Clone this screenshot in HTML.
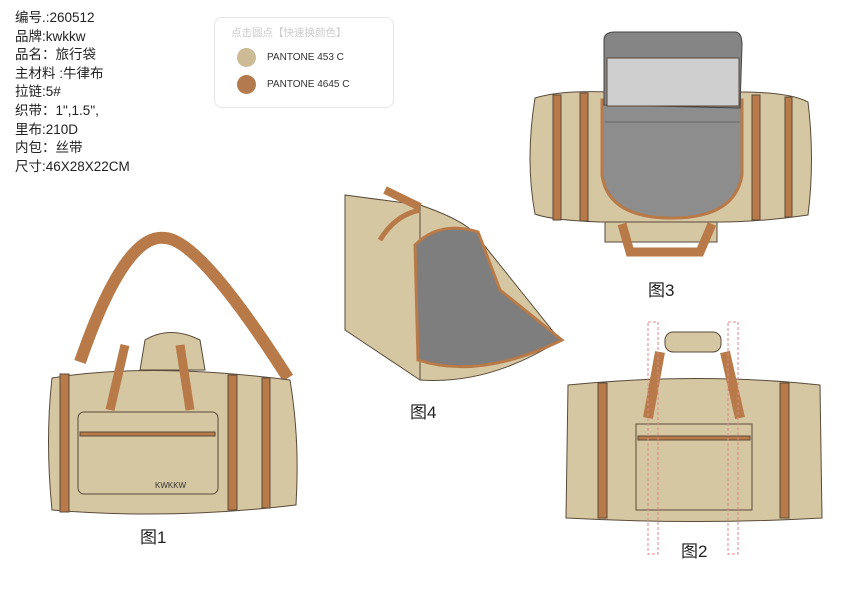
<!DOCTYPE html>
<html><head><meta charset="utf-8"><style>
body{margin:0;width:841px;height:595px;background:#fff;overflow:hidden;position:relative;font-family:"Liberation Sans","Noto Sans CJK SC",sans-serif}
.info{position:absolute;left:15px;top:9px;font-size:13.5px;line-height:18.6px;color:#222}
.box{position:absolute;left:214px;top:17px;width:178px;height:89px;border:1px solid #e6e6e6;border-radius:8px}
.box .t{position:absolute;left:16px;top:7px;font-size:10.5px;color:#ccc}
.sw{position:absolute;left:22px;width:19px;height:19px;border-radius:50%}
.lb{position:absolute;left:52px;font-size:10px;color:#333}
.cap{position:absolute;font-size:17px;color:#222}
svg{position:absolute;left:0;top:0}
</style></head><body>
<div class="info">编号.:260512<br>品牌:kwkkw<br>品名：旅行袋<br>主材料 :牛律布<br>拉链:5#<br>织带：1",1.5",<br>里布:210D<br>内包：丝带<br>尺寸:46X28X22CM</div>
<div class="box"><div class="t">点击圆点【快速换颜色】</div>
<div class="sw" style="top:30px;background:#cdbb95"></div><div class="lb" style="top:34px">PANTONE 453 C</div>
<div class="sw" style="top:57px;background:#b47a4f"></div><div class="lb" style="top:61px">PANTONE 4645 C</div></div>
<svg width="841" height="595" viewBox="0 0 841 595" stroke="#5a4a3a" stroke-width="1">
<!-- Fig1 -->
<path d="M80,362 Q125,232 165,238 Q200,240 288,378" fill="none" stroke="#b87a48" stroke-width="12"/>
<path d="M52,378 Q150,362 290,380 Q300,440 296,505 Q170,520 52,510 Q45,440 52,378 Z" fill="#d6c7a3"/>
<path d="M145,340 Q170,325 200,340 L205,370 L140,370 Z" fill="#d6c7a3"/>
<rect x="60" y="374" width="9" height="138" fill="#b87a48"/><rect x="228" y="375" width="9" height="135" fill="#b87a48"/><rect x="262" y="378" width="8" height="130" fill="#b87a48"/>
<rect x="78" y="412" width="140" height="82" rx="6" fill="#d6c7a3"/><rect x="80" y="432" width="135" height="4" fill="#b87a48"/>
<path d="M110,410 L125,345 M190,410 L180,345" stroke="#b87a48" stroke-width="9"/>
<text x="155" y="488" font-size="8" fill="#333" stroke="none" font-family="Liberation Sans">KWKKW</text>
<!-- Fig2 -->
<path d="M568,385 Q700,372 820,385 L822,518 Q700,525 566,518 Z" fill="#d6c7a3"/>
<rect x="665" y="332" width="56" height="20" rx="8" fill="#d6c7a3"/>
<path d="M648,418 L660,352 M740,418 L725,352" stroke="#b87a48" stroke-width="10"/>
<rect x="598" y="383" width="9" height="135" fill="#b87a48"/><rect x="780" y="383" width="9" height="135" fill="#b87a48"/>
<rect x="636" y="424" width="116" height="86" fill="#d6c7a3"/><rect x="638" y="436" width="112" height="4" fill="#b87a48"/>
<rect x="648" y="322" width="10" height="232" fill="none" stroke="#e08a8a" stroke-dasharray="3,2"/><rect x="728" y="322" width="10" height="232" fill="none" stroke="#e08a8a" stroke-dasharray="3,2"/>
<!-- Fig3 -->
<path d="M535,98 Q560,90 610,92 L740,92 Q790,92 808,102 Q815,160 808,215 Q760,222 720,222 L600,222 Q550,220 535,214 Q525,160 535,98 Z" fill="#d6c7a3"/>
<rect x="553" y="95" width="8" height="125" fill="#b87a48"/><rect x="580" y="93" width="8" height="128" fill="#b87a48"/><rect x="752" y="95" width="8" height="125" fill="#b87a48"/><rect x="785" y="97" width="7" height="120" fill="#b87a48"/>
<path d="M602,100 L742,100 L742,175 Q735,218 672,218 Q608,218 602,175 Z" fill="#8d8d8d" stroke="#b87a48" stroke-width="3"/>
<path d="M604,40 Q604,32 615,32 L735,32 Q742,32 742,45 L740,108 L604,105 Z" fill="#858585" stroke="#444"/>
<rect x="607" y="58" width="132" height="48" fill="#cfcfcf"/>
<path d="M605,122 L740,122" stroke="#666"/>
<rect x="605" y="222" width="112" height="20" fill="#d6c7a3"/>
<path d="M622,224 L630,252 L700,252 L712,224" fill="none" stroke="#b87a48" stroke-width="9"/>
<!-- Fig4 -->
<path d="M345,195 L420,205 L420,380 L345,330 Z" fill="#d6c7a3"/>
<path d="M420,205 Q470,222 480,240 L560,340 Q490,385 420,380 Z" fill="#d6c7a3"/>
<path d="M415,245 Q440,220 478,232 L500,290 L562,340 Q480,380 418,360 Z" fill="#7e7e7e" stroke="#b87a48" stroke-width="3"/>
<path d="M385,190 L420,207" stroke="#b87a48" stroke-width="8"/>
<path d="M380,240 Q395,215 420,210" fill="none" stroke="#b87a48" stroke-width="5"/>
</svg>
<div class="cap" style="left:140px;top:523px">图1</div>
<div class="cap" style="left:681px;top:537px">图2</div>
<div class="cap" style="left:648px;top:276px">图3</div>
<div class="cap" style="left:410px;top:398px">图4</div>
</body></html>
